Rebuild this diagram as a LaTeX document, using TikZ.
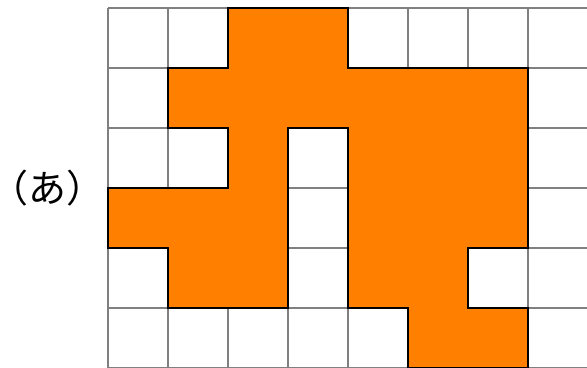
\documentclass[tikz,border=0pt]{standalone}
\usepackage{fontspec}
\newfontfamily\jpfont{Noto Sans CJK JP}
\tikzset{
  cellgrid/.style={draw=gray,line width=0.9pt},
  region/.style={fill={rgb,255:red,255;green,128;blue,0},draw=black,line width=0.9pt,line join=miter},
  tag/.style={font=\jpfont\fontsize{18}{21}\selectfont,inner sep=0pt}
}
\begin{document}
\begin{tikzpicture}[x=1cm,y=-1cm]
  \useasboundingbox (-1.8,-0.133) rectangle (7.983,6);
  \fill[white] (-1.8,-0.133) rectangle (7.983,6);
  \draw[cellgrid] (0,0) grid (8,6);
  % shaded region
  \draw[region] (2,0) -- (4,0) -- (4,1) -- (7,1) -- (7,4) -- (6,4) -- (6,5) -- (7,5)
    -- (7,6) -- (5,6) -- (5,5) -- (4,5) -- (4,2) -- (3,2) -- (3,5) -- (1,5)
    -- (1,4) -- (0,4) -- (0,3) -- (2,3) -- (2,2) -- (1,2) -- (1,1) -- (2,1) -- cycle;
  \node[tag] (label) at (-1.01,3.0) {（あ）};
\end{tikzpicture}
\end{document}
